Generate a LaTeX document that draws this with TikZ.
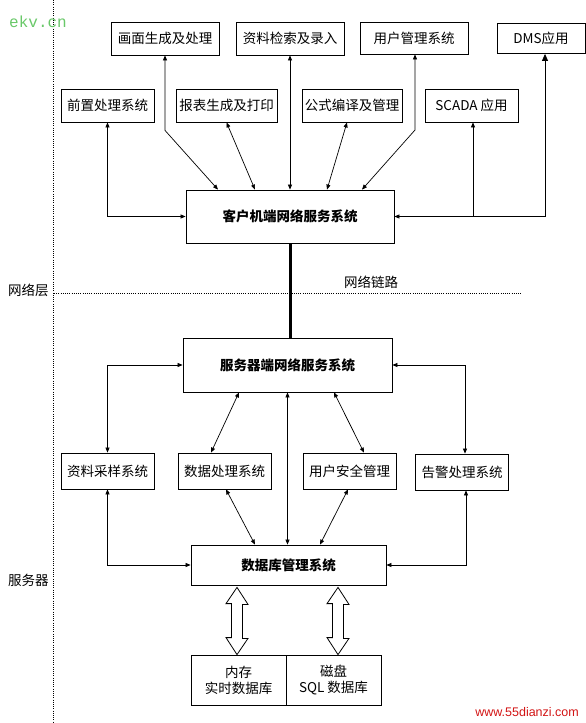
\documentclass[tikz,border=0pt]{standalone}
\usepackage{fontspec}
\setmainfont{Noto Sans CJK SC}
\newfontfamily\monofnt{Liberation Mono}
\newfontfamily\wmfnt{Liberation Sans}
\usetikzlibrary{arrows.meta,calc}
\definecolor{wmgreen}{RGB}{105,200,105}
\definecolor{wmred}{RGB}{210,20,20}
\begin{document}
\begin{tikzpicture}[x=1pt,y=-1pt,
  box/.style={draw,line width=0.8pt,inner sep=0pt,font=\fontsize{13.5}{16}\selectfont},
  bbox/.style={box,font=\fontsize{13.5}{16}\selectfont\bfseries},
  lbl/.style={inner sep=0pt,font=\fontsize{13.5}{16}\selectfont},
  conn/.style={line width=0.7pt,{Triangle[length=5pt,width=4pt]}-{Triangle[length=5pt,width=4pt]}},
  oneway/.style={line width=0.7pt,-{Triangle[length=5pt,width=4pt]}},
  sep/.style={line width=0.6pt,dash pattern=on 1pt off 1.2pt},
  hollow/.style={line width=0.8pt,fill=white}]
\path[use as bounding box] (0,0) rectangle (586,723);

% separators
\draw[sep] (53,0) -- (53,723);
\draw[sep] (54,293) -- (521,293);

% watermarks and side labels
\node[inner sep=0pt,text=wmgreen,font=\monofnt\fontsize{16}{18}\selectfont,anchor=west] (ekv) at (9,22) {ekv.cn};
\node[inner sep=0pt,text=wmred,font=\wmfnt\fontsize{12.5}{14}\selectfont,anchor=east] (wm) at (579,712) {www.55dianzi.com};
\node[lbl,anchor=west] (nl) at (8,290) {网络层};
\node[lbl,anchor=west] (fw) at (8,580) {服务器};
\node[lbl,anchor=west] (ll) at (344,282) {网络链路};

% top row
\node[box,minimum width=108pt,minimum height=33pt] (hm) at (165,38.5) {画面生成及处理};
\node[box,minimum width=108pt,minimum height=33pt] (zl) at (290,38.5) {资料检索及录入};
\node[box,minimum width=108pt,minimum height=32pt] (yh) at (414,38) {用户管理系统};
\node[box,minimum width=88pt,minimum height=30pt] (dms) at (541,38.5) {DMS应用};

% second row
\node[box,minimum width=93pt,minimum height=33pt] (qz) at (107.5,105.5) {前置处理系统};
\node[box,minimum width=101pt,minimum height=33pt] (bb) at (226.5,105.5) {报表生成及打印};
\node[box,minimum width=100pt,minimum height=33pt] (gs) at (352,105.5) {公式编译及管理};
\node[box,minimum width=93pt,minimum height=33pt] (sc) at (471.5,105.5) {SCADA 应用};

% client
\node[bbox,minimum width=208pt,minimum height=53pt] (client) at (290,216.5) {客户机端网络服务系统};

% server
\node[bbox,minimum width=209pt,minimum height=54pt] (server) at (287.5,365) {服务器端网络服务系统};

% third row
\node[box,minimum width=93pt,minimum height=36pt] (cy) at (107.5,471) {资料采样系统};
\node[box,minimum width=93pt,minimum height=36pt] (sj) at (224.5,471) {数据处理系统};
\node[box,minimum width=93pt,minimum height=36pt] (aq) at (349.5,471) {用户安全管理};
\node[box,minimum width=93pt,minimum height=36pt] (gj) at (462,472) {告警处理系统};

% database
\node[bbox,minimum width=195pt,minimum height=40pt] (db) at (288.5,565) {数据库管理系统};
\node[box,minimum width=95pt,minimum height=50pt,align=center] (mem) at (238.5,680) {内存\\实时数据库};
\node[box,minimum width=95pt,minimum height=50pt,align=center] (disk) at (333.5,680) {磁盘\\SQL 数据库};

% client-side connectors
\draw[conn] (qz.south) |- (client.west);
\draw[conn] (hm.south) -- ++(0,75) -- (218,0 |- client.north);
\draw[conn] (zl.south) -- (client.north);
\draw[conn] (bb.south) -- (255,0 |- client.north);
\draw[conn] (347,0 |- gs.south) -- (327,0 |- client.north);
\draw[conn] (415,0 |- yh.south) -- (415,130) -- (362,0 |- client.north);
\draw[line width=0.7pt,{Triangle[length=7pt,width=6pt]}-{Triangle[length=5pt,width=4pt]}] (545,0 |- dms.south) |- (client.east);
\coordinate (scj) at (473,0 |- client.east);
\draw[oneway] (scj) -- (473,0 |- sc.south);

% network link
\draw[line width=3pt] (client.south) -- (client.south |- server.north);

% server connectors
\draw[conn] (server.west) -| (cy.north);
\draw[conn] (server.east) -| (465,0 |- gj.north);
\draw[conn] (211,0 |- sj.north) -- (239,0 |- server.south);
\draw[conn] (364,0 |- aq.north) -- (334,0 |- server.south);
\draw[conn] (server.south) -- (server.south |- db.north);

% database connectors
\draw[conn] (cy.south) |- (db.west);
\draw[conn] (466,0 |- gj.south) |- (db.east);
\draw[conn] (226,0 |- sj.south) -- (255,0 |- db.north);
\draw[conn] (348,0 |- aq.south) -- (320,0 |- db.north);

% hollow double arrows
\draw[hollow] ($(237,0 |- db.south)+(0,2)$) -- ++(11,17) -- ++(-5.5,0) -- ++(0,34) -- ++(5.5,0) -- (237,0 |- mem.north) -- ++(-11,-17) -- ++(5.5,0) -- ++(0,-34) -- ++(-5.5,0) -- cycle;
\draw[hollow] ($(338,0 |- db.south)+(0,2)$) -- ++(11,17) -- ++(-5.5,0) -- ++(0,34) -- ++(5.5,0) -- (338,0 |- disk.north) -- ++(-11,-17) -- ++(5.5,0) -- ++(0,-34) -- ++(-5.5,0) -- cycle;
\end{tikzpicture}
\end{document}
